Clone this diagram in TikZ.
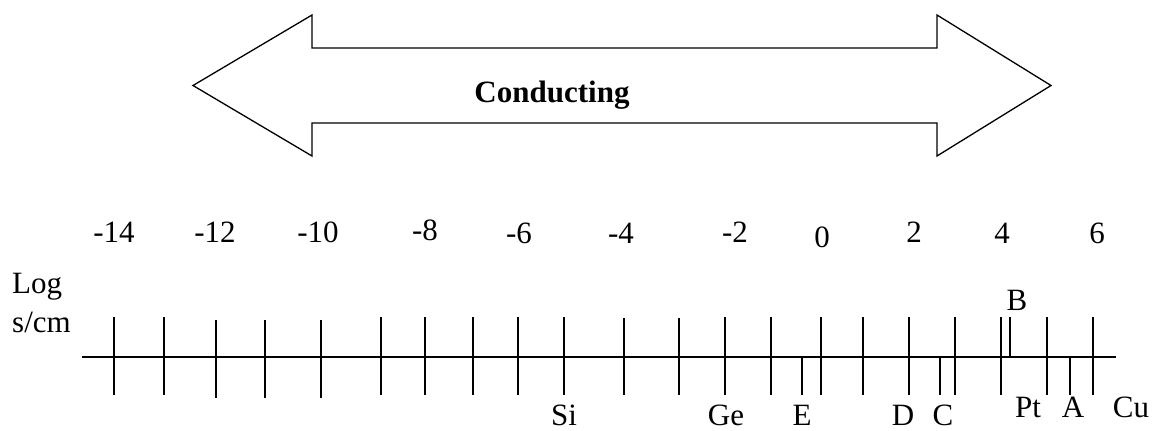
\documentclass[tikz,border=0pt]{standalone}
\usepackage{fontspec}
\setmainfont{Liberation Serif}
\begin{document}
\begin{tikzpicture}[x=1pt,y=-1pt,
  lbl/.style={font=\fontsize{31}{34}\selectfont, inner sep=0pt, anchor=base},
  axisline/.style={line width=2pt},
  bigarrow/.style={line width=1.3pt, line join=miter}]
\useasboundingbox (0,0) rectangle (1152,431);
% double arrow
\draw[bigarrow] (193,85.5) -- (312,15) -- (312,48) -- (937,48) -- (937,15) -- (1051,85.5)
  -- (937,156) -- (937,123) -- (312,123) -- (312,156) -- cycle;
\node[lbl, font=\bfseries\fontsize{31}{34}\selectfont] (cond) at (552,102) {Conducting};
% axis
\draw[axisline] (82,357) -- (1116,357);
% long ticks
\foreach \x/\t/\b in {114/317/395,164/317/395,216/320/398,265/320/398,321/320/398,381/317/395,
  425/317/395,473/317/395,518/317/395,564/317/395,624/318/395,679/318/395,725/317/395,
  771/317/395,821/317/395,863/317/395,909/317/395,955/317/395,1001/317/395,1047/317/395,1093/317/395}
  \draw[axisline] (\x,\t) -- (\x,\b);
% short ticks
\foreach \x/\t/\b in {802/357/395,940/357/395,1010/317/357,1070/357/395}
  \draw[axisline] (\x,\t) -- (\x,\b);
% scale numbers
\foreach \x/\yb/\t [count=\i] in {114/242/-14,215/242/-12,318/242/-10,425/240/-8,519/243/-6,
  621/243/-4,735/242/-2,822/247/0,914/242/2,1002/243/4,1097/243/6}
  \node[lbl] (num\i) at (\x,\yb) {\t};
% axis title
\node[lbl, anchor=base west] (log) at (12,293) {Log};
\node[lbl, anchor=base west] (unit) at (12,332) {s/cm};
% material labels
\node[lbl] (si) at (564,425) {Si};
\node[lbl] (ge) at (726,425) {Ge};
\node[lbl] (e) at (802,425) {E};
\node[lbl] (d) at (903,425) {D};
\node[lbl] (c) at (943,425) {C};
\node[lbl] (pt) at (1028,417) {Pt};
\node[lbl] (a) at (1073,417) {A};
\node[lbl] (cu) at (1131,417) {Cu};
\node[lbl] (b) at (1017,310) {B};
\end{tikzpicture}
\end{document}
